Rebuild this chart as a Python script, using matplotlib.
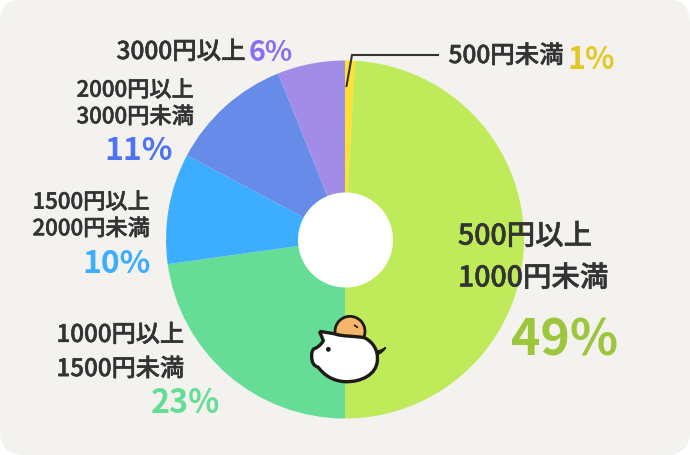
import matplotlib
matplotlib.use("Agg")
import matplotlib.pyplot as plt
import matplotlib.patheffects as pe
from matplotlib.patches import FancyBboxPatch, Circle, PathPatch
from matplotlib.path import Path

plt.rcParams['font.family'] = ['Noto Sans CJK JP', 'DejaVu Sans']

labels = ["500円未満", "500円以上\n1000円未満", "1000円以上\n1500円未満", "1500円以上\n2000円未満", "2000円以上\n3000円未満", "3000円以上"]
# slice sizes as drawn, which differ slightly from the printed percentages
values = [0.9, 49.1, 22.8, 10.0, 11.1, 6.1]
pct_labels = ["1%", "49%", "23%", "10%", "11%", "6%"]
slice_colors = ["#FFE033", "#BFEA5A", "#66DD96", "#3DAEFF", "#668BE8", "#A18DE8"]
pct_colors = ["#E6C622", "#9CC73D", "#66DD96", "#3DAEFF", "#4F73F0", "#8C6FEE"]
TEXT = "#333333"
BG = "#F3F2EF"
H = 456

fig = plt.figure(figsize=(6.9, 4.56), dpi=100)
fig.patch.set_facecolor("white")
ax = fig.add_axes([0, 0, 1, 1])

ax.add_patch(FancyBboxPatch((24, 24), 642, 408, boxstyle="round,pad=24,rounding_size=24", fc=BG, ec="none"))

ax.pie(values, colors=slice_colors, startangle=90, counterclock=False,
       center=(345, H - 240.5), radius=179, frame=True,
       wedgeprops=dict(linewidth=0))
ax.set_xlim(0, 690)
ax.set_ylim(0, H)
ax.set_aspect("equal")
ax.axis("off")
ax.add_patch(Circle((345.5, H - 241), 47.5, fc="white", ec="none", zorder=3))

# leader line to the 1% slice
ax.plot([346.5, 352, 438], [H - 87, H - 56, H - 56], color=TEXT, lw=1.5, zorder=4, solid_joinstyle="miter")


def put(x, y, s, size, color=TEXT, weight=500, spacing=1.3):
    t = ax.text(x, H - y, s, fontsize=size, color=color, ha="left", va="center", fontweight=weight,
                linespacing=spacing, zorder=5)
    # only regular and bold cuts are available, thicken to look medium
    if weight == 500:
        t.set_path_effects([pe.withStroke(linewidth=0.35, foreground=color)])


put(448.5, 57, labels[0], 17.6)
put(568, 60, pct_labels[0], 22, pct_colors[0], weight=700)

put(458, 258, labels[1], 20.5, spacing=1.56)
put(511.5, 341, pct_labels[1], 36, pct_colors[1], weight=700)

put(56.5, 353, labels[2], 17.4, spacing=1.41)
put(151, 404, pct_labels[2], 23.3, pct_colors[2], weight=700)

put(32.5, 216.5, labels[3], 16, spacing=1.2)
put(82.5, 264, pct_labels[3], 23, pct_colors[3], weight=700)

put(76.5, 104.5, labels[4], 16, spacing=1.2)
put(104.5, 151, pct_labels[4], 23, pct_colors[4], weight=700)

put(116.5, 53, labels[5], 17.6)
put(249, 53, pct_labels[5], 20.5, pct_colors[5], weight=700)


def z(px, py):
    return (290 + px / 3, H - (300 + py / 3))


OUT = "#1E1A16"
M, L, C = Path.MOVETO, Path.LINETO, Path.CURVE4
ax.add_patch(Circle(z(180, 97), 15, fc="#F5B56B", ec=OUT, lw=2, zorder=6))
ax.add_patch(PathPatch(Path([z(192, 78), z(204, 86)], [M, L]), ec=OUT, lw=1.2, zorder=7))

tail_pts = [z(258, 155), z(270, 158), z(280, 150), z(287, 146), z(280, 155), z(272, 165), z(262, 165)]
tail_codes = [M, C, C, C, C, C, C]
ax.add_patch(PathPatch(Path(tail_pts, tail_codes), fc=OUT, ec=OUT, lw=1.2, zorder=6))

body_pts = [z(88, 97), z(132, 104),
            z(160, 114), z(200, 110), z(225, 117),
            z(250, 130), z(265, 155), z(262, 185),
            z(260, 225), z(215, 250), z(165, 248),
            z(125, 246), z(100, 225), z(85, 205),
            z(70, 200), z(65, 190), z(65, 170),
            z(65, 155), z(70, 148), z(78, 147),
            z(90, 140), z(98, 130), z(100, 125),
            z(97, 115), z(92, 107), z(88, 97)]
body_codes = [M, L] + [C] * 24
ax.add_patch(PathPatch(Path(body_pts, body_codes), fc="white", ec=OUT, lw=2.4, zorder=7, joinstyle="round"))
ax.add_patch(Circle(z(115, 151), 2.4, fc=OUT, ec="none", zorder=8))

fig.savefig("out.png", dpi=100, facecolor="white")
